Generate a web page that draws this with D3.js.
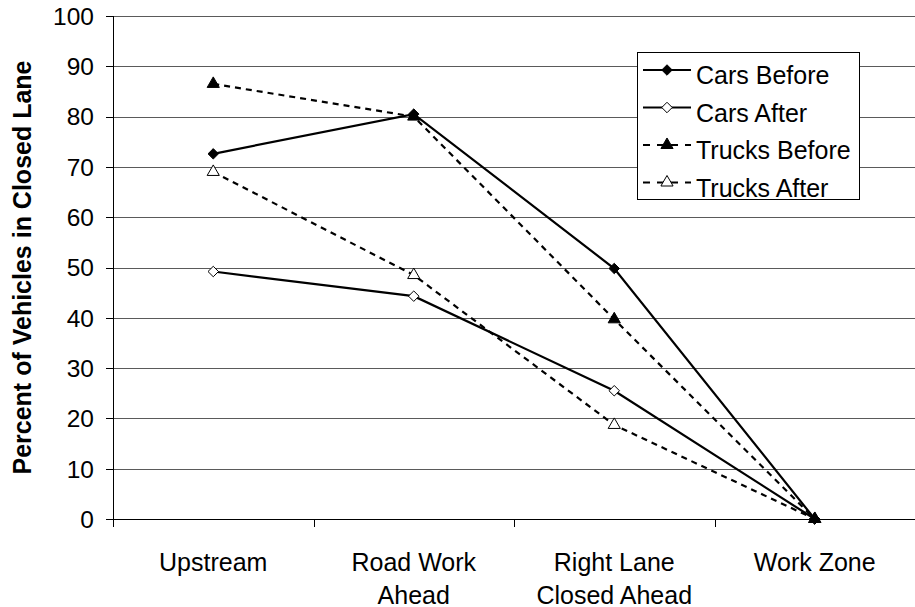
<!DOCTYPE html>
<html>
<head>
<meta charset="utf-8">
<script src="https://cdn.jsdelivr.net/npm/d3@7"></script>
<style>
  body { margin: 0; background: #fff; }
  text { font-family: Arial, "Liberation Sans", sans-serif; fill: #000; }
</style>
</head>
<body>
<div id="chart"></div>
<script>
// categories along the x axis (multi-line labels)
var categories = ["Upstream", "Road Work Ahead", "Right Lane Closed Ahead", "Work Zone"];
var categoryLines = [["Upstream"], ["Road Work", "Ahead"], ["Right Lane", "Closed Ahead"], ["Work Zone"]];

// percent of vehicles in closed lane
var carsBefore   = [72.6, 80.5, 49.8, 0];
var carsAfter    = [49.2, 44.3, 25.5, 0];
var trucksBefore = [86.5, 80.0, 39.7, 0];
var trucksAfter  = [69.0, 48.5, 18.7, 0];

var yTicks = [0, 10, 20, 30, 40, 50, 60, 70, 80, 90, 100];

var series = [
    {name: "Cars Before",   values: carsBefore,   dash: null,  marker: "diamond",  fill: "#000"},
    {name: "Cars After",    values: carsAfter,    dash: null,  marker: "diamond",  fill: "#fff"},
    {name: "Trucks Before", values: trucksBefore, dash: "6,5", marker: "triangle", fill: "#000"},
    {name: "Trucks After",  values: trucksAfter,  dash: "6,5", marker: "triangle", fill: "#fff"}
];

function renderChart(el) {
    var width = 915, height = 607;
    var mLeft = 113, mRight = 915, mTop = 16, mBottom = 519;

    var svg = d3.select("#" + el).append("svg")
        .attr("width", width)
        .attr("height", height);

    var x = d3.scaleBand().domain(categories).range([mLeft, mRight]);
    var y = d3.scaleLinear().domain([0, 100]).range([mBottom, mTop]);
    var cx = function(i) { return x(categories[i]) + x.bandwidth() / 2; };
    var crisp = function(v) { return Math.round(v) + 0.5; };

    // gridlines
    svg.append("g").selectAll("line")
        .data(yTicks.filter(function(d) { return d > 0; }))
        .enter().append("line")
        .attr("x1", mLeft).attr("x2", mRight)
        .attr("y1", function(d) { return crisp(y(d)); })
        .attr("y2", function(d) { return crisp(y(d)); })
        .attr("stroke", "#5a5a5a")
        .attr("stroke-width", 1);

    // y axis
    var yAxis = svg.append("g");
    yAxis.append("line")
        .attr("x1", mLeft + 0.5).attr("x2", mLeft + 0.5)
        .attr("y1", mTop).attr("y2", mBottom + 0.5)
        .attr("stroke", "#000");
    yAxis.selectAll("line.tick")
        .data(yTicks).enter().append("line")
        .attr("class", "tick")
        .attr("x1", mLeft - 7).attr("x2", mLeft)
        .attr("y1", function(d) { return crisp(y(d)); })
        .attr("y2", function(d) { return crisp(y(d)); })
        .attr("stroke", "#000");
    yAxis.selectAll("text")
        .data(yTicks).enter().append("text")
        .attr("x", 94)
        .attr("y", function(d) { return y(d); })
        .attr("dy", "0.36em")
        .attr("text-anchor", "end")
        .style("font-size", "24.5px")
        .text(function(d) { return d; });

    // x axis
    var xAxis = svg.append("g");
    xAxis.append("line")
        .attr("x1", mLeft).attr("x2", mRight)
        .attr("y1", crisp(mBottom)).attr("y2", crisp(mBottom))
        .attr("stroke", "#000");
    xAxis.selectAll("line.tick")
        .data(categories).enter().append("line")
        .attr("class", "tick")
        .attr("x1", function(d) { return crisp(x(d)); })
        .attr("x2", function(d) { return crisp(x(d)); })
        .attr("y1", mBottom).attr("y2", mBottom + 8)
        .attr("stroke", "#000");
    var xLabels = xAxis.selectAll("text")
        .data(categoryLines).enter().append("text")
        .attr("text-anchor", "middle")
        .style("font-size", "25px");
    xLabels.selectAll("tspan")
        .data(function(d, i) { return d.map(function(t) { return {t: t, i: i}; }); })
        .enter().append("tspan")
        .attr("x", function(d) { return cx(d.i); })
        .attr("y", function(d, j) { return 571 + j * 32.5; })
        .text(function(d) { return d.t; });

    // y axis title
    svg.append("text")
        .attr("transform", "translate(31," + ((mTop + mBottom) / 2) + ") rotate(-90)")
        .attr("text-anchor", "middle")
        .style("font-size", "25px")
        .style("font-weight", "bold")
        .text("Percent of Vehicles in Closed Lane");

    // marker shapes
    var diamond = d3.symbol().type(d3.symbolDiamond2).size(70);
    var triangle = d3.symbol().type(d3.symbolTriangle).size(64);
    function markerPath(s) { return s.marker == "diamond" ? diamond() : triangle(); }

    var line = d3.line()
        .x(function(d, i) { return cx(i); })
        .y(function(d) { return y(d); });

    // lines
    svg.append("g").selectAll("path")
        .data(series).enter().append("path")
        .attr("d", function(s) { return line(s.values); })
        .attr("fill", "none")
        .attr("stroke", "#000")
        .attr("stroke-width", 2.2)
        .attr("stroke-dasharray", function(s) { return s.dash; });

    // markers (open ones first so the filled ones sit on top)
    var order = [1, 3, 0, 2];
    order.forEach(function(k) {
        var s = series[k];
        svg.append("g").selectAll("path")
            .data(s.values).enter().append("path")
            .attr("transform", function(d, i) { return "translate(" + cx(i) + "," + y(d) + ")"; })
            .attr("d", markerPath(s))
            .attr("fill", s.fill)
            .attr("stroke", "#000")
            .attr("stroke-width", 1);
    });

    // legend
    var lg = svg.append("g");
    lg.append("rect")
        .attr("x", 637.5).attr("y", 52.5)
        .attr("width", 222).attr("height", 147)
        .attr("fill", "#fff")
        .attr("stroke", "#000");
    var rows = lg.selectAll("g.row")
        .data(series).enter().append("g")
        .attr("class", "row")
        .attr("transform", function(d, i) { return "translate(0," + (70 + i * 37.5) + ")"; });
    rows.append("line")
        .attr("x1", 643).attr("x2", 691)
        .attr("y1", 0).attr("y2", 0)
        .attr("stroke", "#000")
        .attr("stroke-width", 2.2)
        .attr("stroke-dasharray", function(s) { return s.dash ? "7,7" : null; });
    rows.append("path")
        .attr("transform", "translate(667,0)")
        .attr("d", function(s) { return markerPath(s); })
        .attr("fill", function(s) { return s.fill; })
        .attr("stroke", "#000")
        .attr("stroke-width", 1);
    rows.append("text")
        .attr("x", 696)
        .attr("y", 14)
        .style("font-size", "25px")
        .text(function(s) { return s.name; });
}

renderChart("chart");
</script>
</body>
</html>
